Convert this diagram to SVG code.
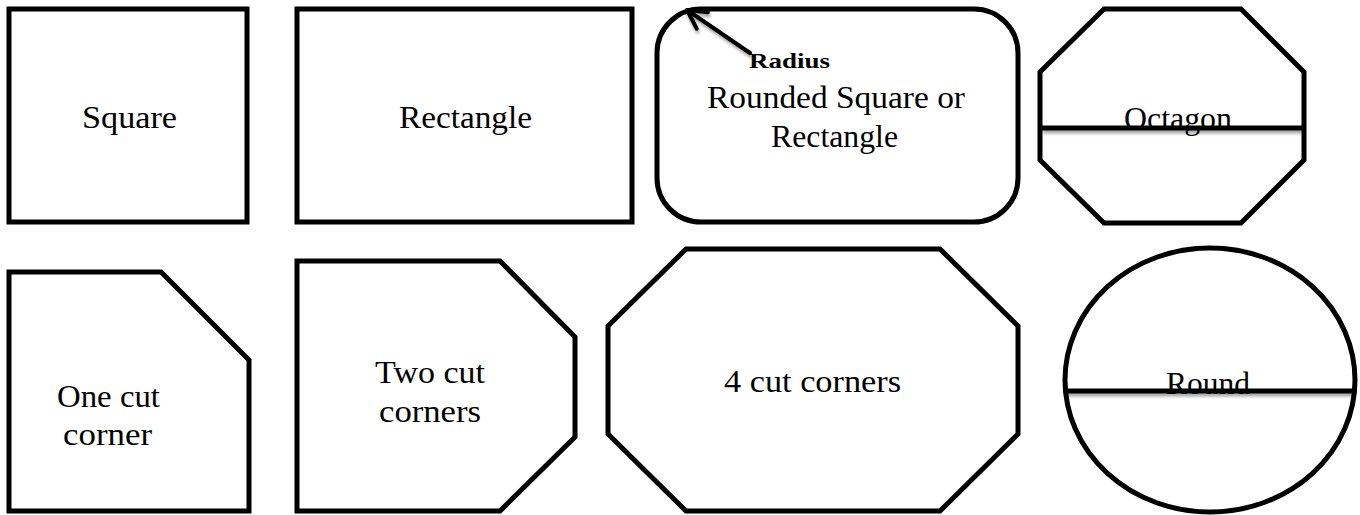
<svg xmlns="http://www.w3.org/2000/svg" width="1360" height="515" viewBox="0 0 1360 515">
<defs>
<style>
.shape{fill:#fff;stroke:#000;stroke-width:5;stroke-linejoin:miter}
.div{stroke:#000;stroke-width:5;fill:none}
.lbl{font-family:"Liberation Serif","Times New Roman",serif;font-size:31px;fill:#000}
.rad{font-family:"Liberation Serif","Times New Roman",serif;font-size:21px;font-weight:bold;fill:#000}
.conn{stroke:#000;stroke-width:4;fill:none;stroke-linecap:round}
</style>
<filter id="sh" filterUnits="userSpaceOnUse" x="0" y="0" width="1360" height="515">
<feDropShadow dx="1" dy="3" stdDeviation="1.5" flood-color="#000" flood-opacity="0.35"/>
</filter>
<marker id="ah" viewBox="-24 -14 28 28" refX="0" refY="0" markerWidth="28" markerHeight="28" markerUnits="userSpaceOnUse" orient="auto">
<path d="M-18.5,-9.9 L0,0 L-18.5,9.9" fill="none" stroke="#000" stroke-width="4" stroke-linecap="round" stroke-linejoin="round"/>
</marker>
</defs>
<rect width="1360" height="515" fill="#fff"/>
<g id="square">
<rect class="shape" x="9" y="9" width="238" height="213"/>
<text class="lbl" x="82" y="128" textLength="95" lengthAdjust="spacingAndGlyphs">Square</text>
</g>
<g id="rectangle">
<rect class="shape" x="297" y="9" width="335" height="213"/>
<text class="lbl" x="399" y="128" textLength="133" lengthAdjust="spacingAndGlyphs">Rectangle</text>
</g>
<g id="rounded">
<rect class="shape" x="657" y="9" width="361" height="213" rx="44" ry="44"/>
<text class="rad" x="749" y="68" textLength="81" lengthAdjust="spacingAndGlyphs">Radius</text>
<text class="lbl" x="707" y="108" textLength="258" lengthAdjust="spacingAndGlyphs">Rounded Square or</text>
<text class="lbl" x="771" y="147" textLength="127" lengthAdjust="spacingAndGlyphs">Rectangle</text>
</g>
<g id="octagon">
<polygon class="shape" points="1104,9 1241,9 1304,72 1304,160 1241,223 1104,223 1040,160 1040,72"/>
<text class="lbl" x="1124" y="129" textLength="108" lengthAdjust="spacingAndGlyphs">Octagon</text>
<line class="div" x1="1042" y1="128" x2="1302" y2="128" filter="url(#sh)"/>
</g>
<g id="one-cut">
<polygon class="shape" points="9,272 161,272 249,360 249,511 9,511"/>
<text class="lbl" x="57" y="407" textLength="103" lengthAdjust="spacingAndGlyphs">One cut</text>
<text class="lbl" x="63" y="445" textLength="89" lengthAdjust="spacingAndGlyphs">corner</text>
</g>
<g id="two-cut">
<polygon class="shape" points="297,261 500,261 575,337 575,437 500,511 297,511"/>
<text class="lbl" x="375" y="383" textLength="110" lengthAdjust="spacingAndGlyphs">Two cut</text>
<text class="lbl" x="379" y="422" textLength="102" lengthAdjust="spacingAndGlyphs">corners</text>
</g>
<g id="four-cut">
<polygon class="shape" points="686,249 940,249 1018,326 1018,434 940,511 686,511 608,434 608,326"/>
<text class="lbl" x="724" y="392" textLength="177" lengthAdjust="spacingAndGlyphs">4 cut corners</text>
</g>
<g id="round">
<ellipse class="shape" cx="1210" cy="380" rx="145" ry="132"/>
<text class="lbl" x="1166" y="394" textLength="84" lengthAdjust="spacingAndGlyphs">Round</text>
<line class="div" x1="1066" y1="391" x2="1354" y2="391" filter="url(#sh)"/>
</g>
<g id="connectors">
<path class="conn" d="M750,53 L687,10" marker-end="url(#ah)" filter="url(#sh)"/>
</g>
</svg>
